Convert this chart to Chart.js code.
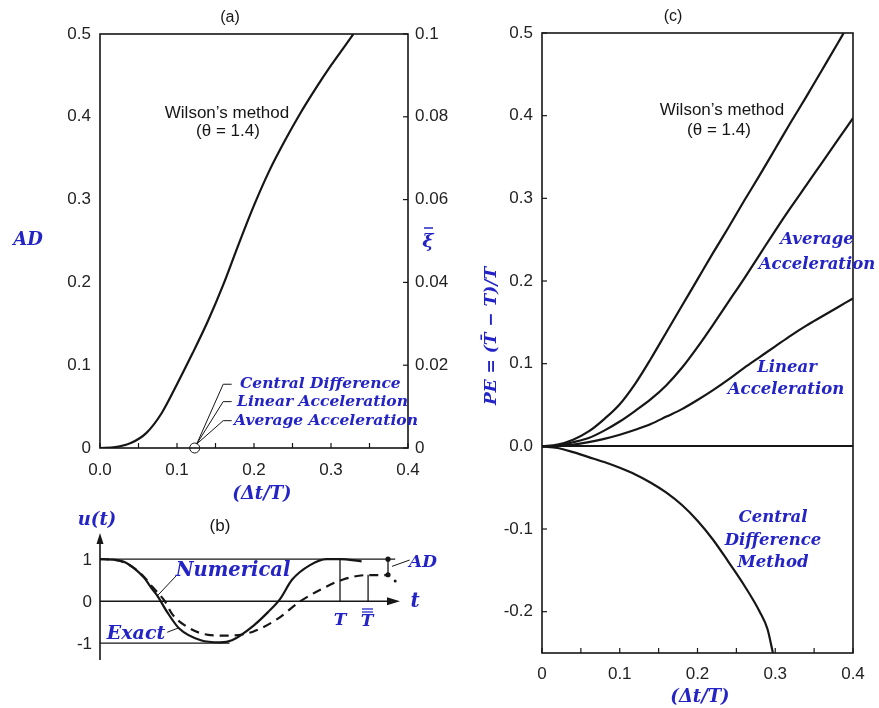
<!DOCTYPE html>
<html>
<head>
<meta charset="utf-8">
<script src="https://cdn.jsdelivr.net/npm/chart.js@4.4.1/dist/chart.umd.min.js"></script>
<style>
  html, body { margin: 0; padding: 0; background: #fff; }
  #wrap { position: relative; width: 879px; height: 708px; overflow: hidden; }
  canvas { position: absolute; }
</style>
</head>
<body>
<div id="wrap">
  <canvas id="chartA" width="460" height="505" style="left:0;top:0"></canvas>
  <canvas id="chartB" width="460" height="203" style="left:0;top:505px"></canvas>
  <canvas id="chartC" width="419" height="708" style="left:460px;top:0"></canvas>
</div>
<script>
// ---- (a) amplitude decay vs dt/T ----
const dtA = [0, 0.02, 0.04, 0.06, 0.08, 0.10, 0.12, 0.14, 0.16, 0.18, 0.20, 0.22, 0.24, 0.26, 0.28, 0.30, 0.32, 0.329];
const adWilson = [0, 0.001, 0.006, 0.018, 0.042, 0.077, 0.114, 0.153, 0.197, 0.246, 0.293, 0.335, 0.371, 0.404, 0.434, 0.462, 0.488, 0.5];
const aXTicks = [0, 0.1, 0.2, 0.3, 0.4];
const aXMinor = [0.05, 0.15, 0.25, 0.35];
const aYTicks = [0, 0.1, 0.2, 0.3, 0.4, 0.5];
const aY2Ticks = [0, 0.02, 0.04, 0.06, 0.08, 0.1];

// ---- (b) free vibration sketch, t in units of T ----
const bExactT = [0, 0.05, 0.11, 0.18, 0.22, 0.24, 0.28, 0.33, 0.42, 0.50, 0.55, 0.64, 0.70, 0.75, 0.80, 0.875, 0.945, 1.0, 1.09];
const bExactU = [1, 0.99, 0.91, 0.58, 0.27, 0.12, -0.26, -0.65, -0.93, -0.98, -0.93, -0.58, -0.26, 0.05, 0.51, 0.86, 1.0, 1.0, 0.95];
const bNumT = [0, 0.05, 0.11, 0.18, 0.22, 0.27, 0.30, 0.36, 0.45, 0.54, 0.64, 0.74, 0.83, 0.92, 1.01, 1.11, 1.2];
const bNumU = [1, 0.99, 0.9, 0.6, 0.33, 0, -0.3, -0.6, -0.8, -0.82, -0.72, -0.42, -0.02, 0.28, 0.51, 0.62, 0.62];
const bOneT = [0, 1.23], bOneU = [1, 1];
const bMinusT = [0, 0.54], bMinusU = [-1, -1];
const bPeriodT = [1, 1], bPeriodU = [0, 1];
const bPeriodNumT = [1.117, 1.117], bPeriodNumU = [0, 0.63];
const bDecayT = [1.2, 1.2], bDecayU = [1, 0.63];
const bYTicks = [1, 0, -1];

// ---- (c) period elongation vs dt/T ----
const peWilsonX = [0, 0.02, 0.04, 0.06, 0.08, 0.10, 0.12, 0.14, 0.16, 0.18, 0.20, 0.22, 0.24, 0.26, 0.28, 0.30, 0.32, 0.34, 0.36, 0.38, 0.388];
const peWilson = [0, 0.002, 0.008, 0.018, 0.033, 0.051, 0.076, 0.106, 0.138, 0.170, 0.202, 0.234, 0.265, 0.297, 0.328, 0.360, 0.392, 0.423, 0.455, 0.487, 0.5];
const peX = [0, 0.02, 0.04, 0.06, 0.08, 0.10, 0.12, 0.14, 0.16, 0.18, 0.20, 0.22, 0.24, 0.26, 0.28, 0.30, 0.32, 0.34, 0.36, 0.38, 0.40];
const peAverage = [0, 0.001, 0.005, 0.010, 0.019, 0.030, 0.043, 0.057, 0.074, 0.095, 0.120, 0.147, 0.175, 0.203, 0.232, 0.261, 0.289, 0.316, 0.343, 0.370, 0.397];
const peLinear = [0, 0.0005, 0.002, 0.005, 0.009, 0.014, 0.020, 0.027, 0.036, 0.045, 0.056, 0.068, 0.081, 0.095, 0.108, 0.121, 0.134, 0.146, 0.157, 0.168, 0.179];
const peCentralX = [0, 0.02, 0.04, 0.06, 0.08, 0.10, 0.12, 0.14, 0.16, 0.18, 0.20, 0.22, 0.24, 0.26, 0.28, 0.29, 0.297];
const peCentral = [0, -0.002, -0.007, -0.013, -0.019, -0.026, -0.034, -0.044, -0.056, -0.071, -0.090, -0.113, -0.140, -0.168, -0.200, -0.221, -0.25];
const cXTicks = [0, 0.1, 0.2, 0.3, 0.4];
const cXMinor = [0.05, 0.15, 0.25, 0.35];
const cYTicks = [-0.2, -0.1, 0, 0.1, 0.2, 0.3, 0.4, 0.5];

const BLUE = '#2424c6';
const INK = '#161616';
const sans = s => s + 'px "Liberation Sans", Arial, sans-serif';
const math = s => 'italic bold ' + s + 'px "DejaVu Serif", serif';

const pts = (xs, ys) => xs.map((x, i) => ({ x: x, y: ys[i] }));

function curve(xs, ys, extra) {
  return Object.assign({
    data: pts(xs, ys),
    borderColor: INK,
    borderWidth: 2.2,
    pointRadius: 0,
    cubicInterpolationMode: 'monotone',
    fill: false
  }, extra || {});
}

// fixes axis box size so the plot area lands where the figure has it
function fitTo(size) {
  return s => {
    if (s.isHorizontal()) s.height = size; else s.width = size;
    s.paddingLeft = s.paddingRight = s.paddingTop = s.paddingBottom = 0;
  };
}
const useTicks = vals => s => { s.ticks = vals.map(v => ({ value: v })); };

function makeFrame(cfg) {
  return {
    id: 'frame',
    afterDatasetsDraw(chart) {
      const { ctx, chartArea: a, scales } = chart;
      const seg = (x1, y1, x2, y2) => { ctx.beginPath(); ctx.moveTo(x1, y1); ctx.lineTo(x2, y2); ctx.stroke(); };
      ctx.save();
      ctx.strokeStyle = INK;
      ctx.lineWidth = 1.6;
      ctx.strokeRect(a.left, a.top, a.right - a.left, a.bottom - a.top);
      ctx.lineWidth = 1.2;
      (cfg.x || []).forEach(v => { const p = scales.x.getPixelForValue(v); seg(p, a.bottom, p, a.bottom - 5); });
      (cfg.y || []).forEach(v => { const p = scales.y.getPixelForValue(v); seg(a.left, p, a.left + 5, p); });
      (cfg.y2 || []).forEach(v => { const p = scales.y2.getPixelForValue(v); seg(a.right, p, a.right - 5, p); });
      ctx.restore();
    }
  };
}

function makeNotes(items, draw) {
  return {
    id: 'notes',
    afterDraw(chart) {
      const ctx = chart.ctx;
      ctx.save();
      if (draw) draw(chart, ctx);
      items.forEach(n => {
        ctx.save();
        ctx.font = n.font;
        ctx.fillStyle = n.color || INK;
        ctx.textAlign = n.align || 'center';
        ctx.textBaseline = 'middle';
        ctx.translate(n.x, n.y);
        if (n.rot) ctx.rotate(n.rot);
        ctx.fillText(n.t, 0, 0);
        ctx.restore();
      });
      ctx.restore();
    }
  };
}

const baseOpts = {
  responsive: false,
  animation: false,
  plugins: { legend: { display: false }, tooltip: { enabled: false } }
};
const tickFont = { family: '"Liberation Sans", Arial, sans-serif', size: 17 };

// ---------- (a) ----------
new Chart(document.getElementById('chartA'), {
  type: 'line',
  data: { datasets: [curve(dtA, adWilson)] },
  options: Object.assign({}, baseOpts, {
    layout: { padding: { top: 34, left: 0, right: 0, bottom: 0 } },
    scales: {
      x: {
        type: 'linear', min: 0, max: 0.4,
        afterBuildTicks: useTicks(aXTicks), afterFit: fitTo(57),
        grid: { display: false, drawTicks: false }, border: { display: false },
        ticks: { font: tickFont, color: '#222', padding: 12, maxRotation: 0, callback: v => v.toFixed(1) }
      },
      y: {
        type: 'linear', position: 'left', min: 0, max: 0.5,
        afterBuildTicks: useTicks(aYTicks), afterFit: fitTo(100),
        grid: { display: false, drawTicks: false }, border: { display: false },
        ticks: { font: tickFont, color: '#222', padding: 9, callback: v => v === 0 ? '0' : v.toFixed(1) }
      },
      y2: {
        type: 'linear', position: 'right', min: 0, max: 0.1,
        afterBuildTicks: useTicks(aY2Ticks), afterFit: fitTo(52),
        grid: { display: false, drawTicks: false }, border: { display: false },
        ticks: { font: tickFont, color: '#222', padding: 7,
          callback: v => v === 0 ? '0' : (Math.abs(v - 0.1) < 1e-9 ? '0.1' : v.toFixed(2)) }
      }
    }
  }),
  plugins: [
    makeFrame({ x: aXTicks.concat(aXMinor), y2: aY2Ticks }),
    makeNotes([
      { t: '(a)', x: 230, y: 18, font: sans(16) },
      { t: 'Wilson\u2019s method', x: 227, y: 113, font: sans(17) },
      { t: '(\u03b8 = 1.4)', x: 228, y: 131, font: sans(17) },
      { t: 'AD', x: 28, y: 240, font: math(18), color: BLUE },
      { t: '\u03be', x: 428, y: 242, font: math(19), color: BLUE },
      { t: '(\u0394t/T)', x: 262, y: 494, font: math(18), color: BLUE },
      { t: 'Central Difference', x: 240, y: 384, font: math(15.5), color: BLUE, align: 'left' },
      { t: 'Linear Acceleration', x: 237, y: 402, font: math(15.5), color: BLUE, align: 'left' },
      { t: 'Average Acceleration', x: 234, y: 421, font: math(15.5), color: BLUE, align: 'left' }
    ], (chart, ctx) => {
      const sx = chart.scales.x, sy = chart.scales.y;
      const cx = sx.getPixelForValue(0.123), cy = sy.getPixelForValue(0);
      ctx.strokeStyle = INK;
      ctx.lineWidth = 1;
      ctx.beginPath(); ctx.arc(cx, cy, 5, 0, Math.PI * 2); ctx.stroke();
      [0.077, 0.056, 0.033].forEach(v => {
        const ey = sy.getPixelForValue(v);
        ctx.beginPath();
        ctx.moveTo(cx + 2, cy - 4);
        ctx.lineTo(sx.getPixelForValue(0.16), ey);
        ctx.lineTo(sx.getPixelForValue(0.171), ey);
        ctx.stroke();
      });
      // bar over xi
      ctx.strokeStyle = BLUE;
      ctx.lineWidth = 1.5;
      ctx.beginPath(); ctx.moveTo(424, 228); ctx.lineTo(433, 228); ctx.stroke();
    })
  ]
});

// ---------- (b) ----------
new Chart(document.getElementById('chartB'), {
  type: 'line',
  data: {
    datasets: [
      curve(bOneT, bOneU, { borderWidth: 1.3, cubicInterpolationMode: 'default', tension: 0 }),
      curve(bMinusT, bMinusU, { borderWidth: 1.3, cubicInterpolationMode: 'default', tension: 0 }),
      curve(bPeriodT, bPeriodU, { borderWidth: 1.3, cubicInterpolationMode: 'default', tension: 0 }),
      curve(bPeriodNumT, bPeriodNumU, { borderWidth: 1.3, cubicInterpolationMode: 'default', tension: 0 }),
      curve(bDecayT, bDecayU, { borderWidth: 1.3, cubicInterpolationMode: 'default', tension: 0,
        pointRadius: 2.6, pointBackgroundColor: INK, pointBorderWidth: 0 }),
      curve(bExactT, bExactU, { borderWidth: 2.2 }),
      curve(bNumT, bNumU, { borderWidth: 2.2, borderDash: [9, 6] })
    ]
  },
  options: Object.assign({}, baseOpts, {
    layout: { padding: { top: 29, left: 100, right: 60, bottom: 48 } },
    scales: {
      x: { type: 'linear', display: false, min: 0, max: 1.25 },
      y: { type: 'linear', display: false, min: -1.4, max: 1.6 }
    }
  }),
  plugins: [
    makeNotes([
      { t: 'u(t)', x: 97, y: 15, font: math(18), color: BLUE },
      { t: '(b)', x: 220, y: 21, font: sans(17) },
      { t: 'Numerical', x: 233, y: 66, font: math(19.5), color: BLUE },
      { t: 'Exact', x: 136, y: 129, font: math(19), color: BLUE },
      { t: 'AD', x: 423, y: 58, font: math(17), color: BLUE },
      { t: 't', x: 415, y: 97, font: math(20), color: BLUE },
      { t: 'T', x: 340, y: 116, font: math(17), color: BLUE },
      { t: 'T', x: 367, y: 117, font: math(17), color: BLUE }
    ], (chart, ctx) => {
      const sx = chart.scales.x, sy = chart.scales.y;
      const X = v => sx.getPixelForValue(v), Y = v => sy.getPixelForValue(v);
      const seg = (x1, y1, x2, y2) => { ctx.beginPath(); ctx.moveTo(x1, y1); ctx.lineTo(x2, y2); ctx.stroke(); };
      ctx.strokeStyle = INK;
      ctx.fillStyle = INK;
      // axes with arrow heads
      ctx.lineWidth = 1.6;
      const x0 = X(0), y0 = Y(0);
      const top = chart.chartArea.top - 1, bot = chart.chartArea.bottom;
      seg(x0, bot, x0, top + 6);
      ctx.beginPath(); ctx.moveTo(x0, top); ctx.lineTo(x0 - 3.5, top + 11); ctx.lineTo(x0 + 3.5, top + 11); ctx.closePath(); ctx.fill();
      const right = chart.chartArea.right;
      seg(x0, y0, right - 6, y0);
      ctx.beginPath(); ctx.moveTo(right, y0); ctx.lineTo(right - 13, y0 - 4); ctx.lineTo(right - 13, y0 + 4); ctx.closePath(); ctx.fill();
      // tick labels
      ctx.font = sans(17);
      ctx.textAlign = 'right';
      ctx.textBaseline = 'middle';
      ctx.fillStyle = '#222';
      bYTicks.forEach(v => ctx.fillText(String(v), x0 - 8, Y(v) + 1));
      // leader lines
      ctx.lineWidth = 1;
      seg(X(0.32), Y(0.62), X(0.2375), Y(0.12));
      seg(X(0.28), Y(-0.74), X(0.33), Y(-0.63));
      seg(X(1.217), Y(0.83), X(1.29), Y(0.98));
      ctx.fillStyle = INK;
      ctx.beginPath(); ctx.arc(X(1.23), Y(0.48), 1.5, 0, Math.PI * 2); ctx.fill();
      // double bar over the numerical period label
      ctx.strokeStyle = BLUE;
      ctx.lineWidth = 1.3;
      seg(362, 104, 373, 104);
      seg(362, 107, 373, 107);
    })
  ]
});

// ---------- (c) ----------
new Chart(document.getElementById('chartC'), {
  type: 'line',
  data: {
    datasets: [
      curve(peWilsonX, peWilson),
      curve(peX, peAverage),
      curve(peX, peLinear),
      curve(peCentralX, peCentral)
    ]
  },
  options: Object.assign({}, baseOpts, {
    layout: { padding: { top: 33, left: 0, right: 26, bottom: 0 } },
    scales: {
      x: {
        type: 'linear', min: 0, max: 0.4,
        afterBuildTicks: useTicks(cXTicks), afterFit: fitTo(55),
        grid: { display: false, drawTicks: false }, border: { display: false },
        ticks: { font: tickFont, color: '#222', padding: 11, maxRotation: 0, callback: v => v === 0 ? '0' : v.toFixed(1) }
      },
      y: {
        type: 'linear', min: -0.25, max: 0.5,
        afterBuildTicks: useTicks(cYTicks), afterFit: fitTo(82),
        border: { display: false },
        grid: { drawTicks: false, lineWidth: 2, color: c => (c.tick && c.tick.value === 0) ? INK : 'rgba(0,0,0,0)' },
        ticks: { font: tickFont, color: '#222', padding: 9, callback: v => v.toFixed(1) }
      }
    }
  }),
  plugins: [
    makeFrame({ x: cXTicks.concat(cXMinor), y: cYTicks }),
    makeNotes([
      { t: '(c)', x: 213, y: 17, font: sans(16) },
      { t: 'Wilson\u2019s method', x: 262, y: 110, font: sans(17) },
      { t: '(\u03b8 = 1.4)', x: 259, y: 130, font: sans(17) },
      { t: 'Average', x: 357, y: 240, font: math(16.5), color: BLUE },
      { t: 'Acceleration', x: 357, y: 265, font: math(16.5), color: BLUE },
      { t: 'Linear', x: 327, y: 368, font: math(16.5), color: BLUE },
      { t: 'Acceleration', x: 326, y: 390, font: math(16.5), color: BLUE },
      { t: 'Central', x: 313, y: 518, font: math(16.5), color: BLUE },
      { t: 'Difference', x: 313, y: 541, font: math(16.5), color: BLUE },
      { t: 'Method', x: 313, y: 563, font: math(16.5), color: BLUE },
      { t: '(\u0394t/T)', x: 240, y: 697, font: math(18), color: BLUE },
      { t: 'PE = (T\u0304 \u2212 T)/T', x: 32, y: 336, font: math(17), color: BLUE, rot: -Math.PI / 2 }
    ])
  ]
});
</script>
</body>
</html>
